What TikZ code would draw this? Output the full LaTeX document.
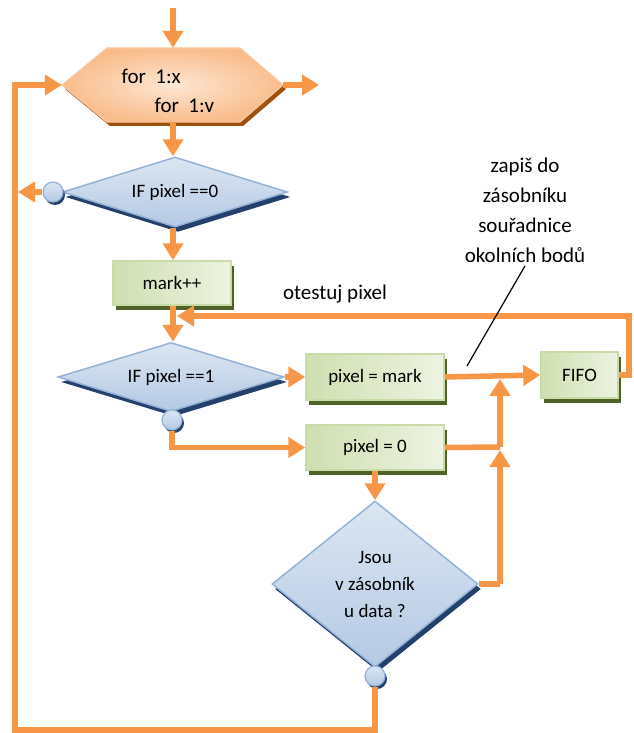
\documentclass[tikz,border=0pt]{standalone}
\usepackage{fontspec}
\setmainfont{Carlito}
\usetikzlibrary{arrows.meta,shapes.geometric,shadows,calc}
\definecolor{flow}{HTML}{F79646}
\definecolor{hexlt}{HTML}{FDE6D3}
\definecolor{hexdk}{HTML}{F9BD8C}
\definecolor{hexbd}{HTML}{FAC8A0}
\definecolor{hexsh}{HTML}{A0500F}
\definecolor{bluelt}{HTML}{DCE6F2}
\definecolor{bluedk}{HTML}{B4C9E4}
\definecolor{bluebd}{HTML}{95B3D7}
\definecolor{bluesh}{HTML}{24406C}
\definecolor{greenlt}{HTML}{EDF3E2}
\definecolor{greendk}{HTML}{CFDFB0}
\definecolor{greenbd}{HTML}{C9DBA6}
\definecolor{greensh}{HTML}{4F6228}
\begin{document}
\begin{tikzpicture}[x=1pt,y=-1pt,
  flowline/.style={draw=flow, line width=5.5pt},
  arr/.style={flowline, -{Triangle[width=20pt,length=17pt]}},
  boxfont/.style={font=\fontsize{19}{27}\selectfont},
  notefont/.style={font=\fontsize{21}{30}\selectfont},
  decision/.style={diamond, draw=bluebd, line width=1.5pt, top color=bluelt, bottom color=bluedk,
    inner sep=0pt, boxfont, align=center,
    drop shadow={fill=bluesh, opacity=1, shadow xshift=3pt, shadow yshift=-5pt}},
  process/.style={rectangle, draw=greenbd, line width=1.5pt, left color=greendk, right color=greenlt,
    inner sep=0pt, boxfont,
    drop shadow={fill=greensh, opacity=1, shadow xshift=3pt, shadow yshift=-5pt}},
  knob/.style={circle, draw=bluebd, line width=1.2pt, top color=bluelt, bottom color=bluedk,
    minimum size=20pt, inner sep=0pt,
    drop shadow={fill=bluesh, opacity=1, shadow xshift=2pt, shadow yshift=-3pt}},
  hexstyle/.style={draw=hexbd, line width=1.2pt, inner color=hexlt, outer color=hexdk,
    drop shadow={fill=hexsh, opacity=1, shadow xshift=3pt, shadow yshift=-4pt}}
]
\useasboundingbox (0,0) rectangle (633,733);

% hexagon (loop header)
\path[hexstyle] (62,85) -- (107,48) -- (240,48) -- (283,85) -- (240,122) -- (107,122) -- cycle;
\node[minimum width=221pt, minimum height=74pt, inner sep=0pt] (hex) at (172.5,85) {};
\node[anchor=west, notefont] (forx) at (118,76) {for~~1:x};
\node[anchor=west, notefont] (fory) at (151,105) {for~~1:v};

% decisions
\node[decision, aspect=3.2, minimum width=225pt, minimum height=70pt] (d1) at (175,192) {IF pixel ==0};
\node[decision, aspect=3.2, minimum width=226pt, minimum height=69pt] (d2) at (171,377) {IF pixel ==1};
\node[decision, aspect=1.24, minimum width=206pt, minimum height=166pt] (d3) at (375,584) {Jsou\\v zásobník\\u data ?};

% processes
\node[process, minimum width=118pt, minimum height=44pt] (mark) at (172,283) {mark++};
\node[process, minimum width=138pt, minimum height=46pt] (pm) at (375,377) {pixel = mark};
\node[process, minimum width=138pt, minimum height=45pt] (p0) at (375,447.5) {pixel = 0};
\node[process, minimum width=77pt, minimum height=46pt] (fifo) at (579.5,375) {FIFO};

% knobs
\node[knob] (k1) at (53,192) {};
\node[knob] (k2) at (172,420) {};
\node[knob] (k3) at (375,676) {};

% texts
\node[notefont, align=center] (note) at (525,210) {zapiš do\\zásobníku\\souřadnice\\okolních bodů};
\node[notefont] (test) at (335,294) {otestuj pixel};

% helper coordinates
\coordinate (axis) at (173,0);
\coordinate (start) at (173,8);
\coordinate (exitR) at (319,85);
\coordinate (leftA) at (18,192);
\coordinate (pin) at (467,366);
\coordinate (fr) at (629,375);
\coordinate (ft) at (629,316);
\coordinate (fl) at (177,316);
\coordinate (j1) at (500,447);
\coordinate (j1tip) at (500,379);
\coordinate (j2) at (500,584);
\coordinate (j2tip) at (500,450);
\coordinate (bl) at (15,730);
\coordinate (br) at (375,730);
\coordinate (tl) at (15,85);

% connectors
\draw[arr] (start) -- (start |- hex.north);
\draw[arr] (hex.east) -- (exitR);
\draw[arr] (hex.south -| axis) -- (d1.north -| axis);
\draw[arr] (k1.west) -- (leftA);
\draw[arr] (d1.south -| axis) -- (mark.north -| axis);
\draw[arr] (mark.south -| axis) -- (d2.north -| axis);
\draw[arr] (fifo.east) -- (fr) -- (ft) -- (fl);
\draw[arr] (d2.east) -- (pm.west);
\draw[arr] (k2.south) |- (p0.west);
\draw[arr] (pm.east) -- (fifo.west);
\draw[flowline] (p0.east) -- (j1);
\draw[arr] (j1) -- (j1tip);
\draw[arr] (p0.south) -- (d3.north);
\draw[flowline] (d3.east) -- (j2);
\draw[arr] (j2) -- (j2tip);
\draw[arr] (k3.south) -- (br) -- (bl) -- (tl) -- (hex.west);
\draw[line width=1.2pt] (note.south) -- (pin);
\end{tikzpicture}
\end{document}
